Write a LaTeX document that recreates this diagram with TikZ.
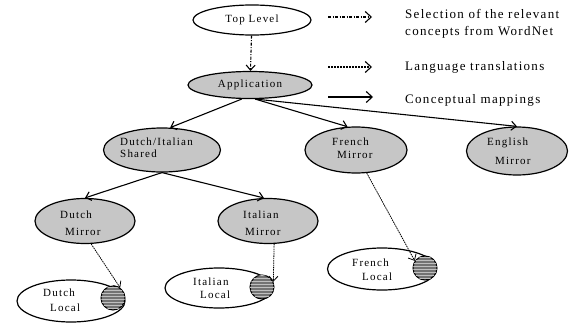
\documentclass[tikz,border=0pt]{standalone}
\usepackage{fontspec}
\setmainfont{Liberation Serif}
\newfontfamily\legendfont[LetterSpace=10]{Liberation Serif}
\newfontfamily\nodefont[LetterSpace=11]{Liberation Serif}
\usetikzlibrary{shapes.geometric,arrows.meta,patterns}
\begin{document}
\begin{tikzpicture}[x=1pt,y=-1pt,
  ell/.style={ellipse, draw, line width=1.2pt, inner sep=0pt, font={\nodefont\fontsize{11}{13}\selectfont}},
  greyell/.style={ell, fill=gray!45},
  plainell/.style={ell, fill=white},
  txt/.style={font={\nodefont\fontsize{11}{13}\selectfont}, inner sep=0pt, anchor=west},
  lg/.style={font={\legendfont\fontsize{13}{17}\selectfont}, inner sep=0pt, anchor=west, align=left},
  tip/.style={-{Straight Barb[length=5pt,width=9pt]}},
  bigtip/.style={-{Straight Barb[length=6pt,width=11pt]}},
  solidarr/.style={line width=1.1pt, tip},
  dotarr/.style={line width=0.8pt, dash pattern=on 1.5pt off 0.8pt, tip},
  ddarr/.style={line width=1.1pt, dash pattern=on 3pt off 1.5pt on 1pt off 1.5pt, tip},
  dsharr/.style={line width=1.1pt, dash pattern=on 2pt off 1pt},
  hatch/.style={circle, draw, line width=1pt, minimum size=24pt, inner sep=0pt, fill=black!55, postaction={pattern=horizontal lines, pattern color=white!75!black}}
]
\useasboundingbox (0,0) rectangle (571,324);

% top part
\node[plainell, minimum width=118pt, minimum height=30pt] (top) at (252,20) {Top Level};
\node[greyell, minimum width=124pt, minimum height=27pt] (app) at (250,85) {Application};

% second level
\node[greyell, minimum width=117pt, minimum height=44pt] (dis) at (162,150) {};
\node[txt] (dis1) at (120,142) {Dutch/Italian};
\node[txt] (dis2) at (120,154) {Shared};
\node[greyell, minimum width=102pt, minimum height=46pt] (fm) at (356,150) {};
\node[txt] (fm1) at (332,142) {French};
\node[txt] (fm2) at (337,155) {Mirror};
\node[greyell, minimum width=101pt, minimum height=48pt] (em) at (517,151) {};
\node[txt] (em1) at (487,143) {English};
\node[txt] (em2) at (495,161) {Mirror};

% third level
\node[greyell, minimum width=100pt, minimum height=45pt] (dm) at (85,221) {};
\node[txt] (dm1) at (60,215) {Dutch};
\node[txt] (dm2) at (65,232) {Mirror};
\node[greyell, minimum width=100pt, minimum height=45pt] (im) at (268,221) {};
\node[txt] (im1) at (243,215) {Italian};
\node[txt] (im2) at (245,232) {Mirror};

% local nodes
\node[plainell, minimum width=108pt, minimum height=42pt] (dl) at (71,301) {};
\node[txt] (dl1) at (43,293) {Dutch};
\node[txt] (dl2) at (50,308) {Local};
\node[hatch] (dlc) at (113,298) {};
\node[plainell, minimum width=108pt, minimum height=40pt] (il) at (219,288) {};
\node[txt] (il1) at (193,282) {Italian};
\node[txt] (il2) at (200,295) {Local};
\node[hatch] (ilc) at (262,287) {};
\node[plainell, minimum width=109pt, minimum height=42pt] (fl) at (382,269) {};
\node[txt] (fl1) at (352,263) {French};
\node[txt] (fl2) at (362,277) {Local};
\node[hatch] (flc) at (425,268) {};

% connectors
\draw[ddarr] (top) -- (app);
\draw[solidarr] (app.240) -- (dis.70);
\draw[solidarr] (app.290) -- (fm.110);
\draw[solidarr] (app.290) -- (em.north);
\draw[solidarr] (dis.south) -- (dm.north);
\draw[solidarr] (dis.south) -- (im.100);
\draw[dotarr] (dm.285) -- (dlc.55);
\draw[dotarr] (im.285) -- (ilc.25);
\draw[dotarr] (fm.295) -- (flc.145);

% legend
\coordinate (l1a) at (328,17);
\coordinate (l1b) at (372,17);
\coordinate (l2a) at (328,67);
\coordinate (l2b) at (372,67);
\coordinate (l3a) at (328,97);
\coordinate (l3b) at (373,97);
\draw[line width=1.1pt, dash pattern=on 3pt off 1.5pt on 1pt off 1.5pt, bigtip] (l1a) -- (l1b);
\draw[dsharr, bigtip] (l2a) -- (l2b);
\draw[line width=1.1pt, bigtip] (l3a) -- (l3b);
\node[lg] (lt1) at (405,24) {Selection of the relevant\\concepts from WordNet};
\node[lg] (lt2) at (405,67) {Language translations};
\node[lg] (lt3) at (405,100) {Conceptual mappings};
\end{tikzpicture}
\end{document}
